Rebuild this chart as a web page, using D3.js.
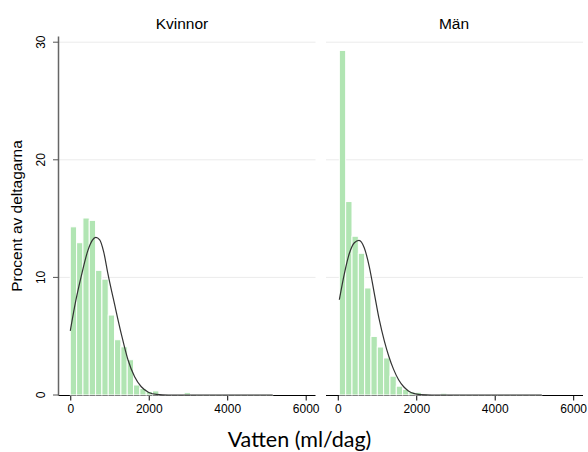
<!DOCTYPE html>
<html><head><meta charset="utf-8">
<script src="https://cdn.jsdelivr.net/npm/d3@7"></script>
<style>body{margin:0;background:#fff} svg{display:block}</style>
</head><body>
<svg id="c" width="588" height="452"></svg>
<script>
// ---- data ----
const panelTitles = ["Kvinnor", "Män"];
const binStart = [0, 40];
const binWidth = 161.25;
const kvinnorPct = [14.3, 12.95, 15.05, 14.85, 10.6, 9.85, 6.8, 4.7, 4.1, 3.0,
  0.85, 0.55, 0.3, 0.35, 0.05, 0.03, 0.03, 0.03, 0.2, 0.03,
  0.02, 0.02, 0.02, 0.02, 0.02, 0.02, 0.02, 0.02, 0.02, 0.02, 0.02, 0.02];
const manPct = [29.3, 16.45, 13.5, 12.05, 9.1, 4.98, 4.08, 3.15, 1.6, 0.75,
  0.48, 0.26, 0.23, 0.12, 0.05, 0.05, 0.15, 0.03, 0.02, 0.02,
  0.02, 0.02, 0.02, 0.02, 0.02, 0.02, 0.02, 0.02, 0.02, 0.02, 0.02, 0.02];
const kvinnorCurveX = [0, 110, 280, 450, 560, 650, 750, 850, 960, 1130, 1300, 1470, 1640, 1810, 2000, 2200, 2500, 5160];
const kvinnorCurveY = [5.45, 7.5, 10.1, 12.3, 13.15, 13.4, 13.2, 12.2, 10.3, 7.7, 5.2, 3.0, 1.55, 0.7, 0.22, 0.05, 0, 0];
const manCurveX = [40, 170, 296, 423, 540, 677, 804, 931, 1058, 1186, 1300, 1420, 1550, 1680, 1800, 1950, 2100, 2400, 5200];
const manCurveY = [8.1, 10.35, 12.05, 12.95, 13.15, 12.5, 10.9, 8.65, 6.4, 4.6, 3.3, 2.2, 1.3, 0.7, 0.35, 0.12, 0.04, 0, 0];
const xTicks = [0, 2000, 4000, 6000];
const yTicks = [0, 10, 20, 30];
const yTitle = "Procent av deltagarna";
const xTitle = "Vatten (ml/dag)";

// ---- layout ----
const svg = d3.select("#c");
const panelLeft = [58.5, 326];
const panelW = 257;
const y = d3.scaleLinear().domain([0, 30]).range([395, 42.2]);
const barColor = "#b1e5b3";
const gridColor = "#ebebeb";

const pctSeries = [kvinnorPct, manPct];
const curves = [[kvinnorCurveX, kvinnorCurveY], [manCurveX, manCurveY]];

panelTitles.forEach((title, p) => {
  const g = svg.append("g");
  const x = d3.scaleLinear().domain([-300, 6250]).range([panelLeft[p], panelLeft[p] + panelW]);

  // gridlines
  g.selectAll("line.grid").data(yTicks.filter(t => t > 0)).join("line")
    .attr("x1", panelLeft[p]).attr("x2", panelLeft[p] + panelW)
    .attr("y1", d => y(d)).attr("y2", d => y(d))
    .attr("stroke", gridColor).attr("stroke-width", 1);

  // x axis
  const xAxis = d3.axisBottom(x).tickValues(xTicks).tickSize(5).tickPadding(4).tickFormat(d3.format("d"));
  const ax = g.append("g").attr("transform", "translate(0,395.5)").call(xAxis);
  ax.select(".domain").attr("d", `M${panelLeft[p]},0H${panelLeft[p] + panelW}`).attr("stroke", "#000");
  ax.selectAll(".tick line").attr("stroke", "#000");
  ax.selectAll(".tick text").attr("font-family", "Liberation Sans, Arial, sans-serif")
    .attr("font-size", 12).attr("fill", "#000");

  // bars
  const data = pctSeries[p].map((v, i) => ({x0: binStart[p] + i * binWidth, v}));
  g.selectAll("rect.bar").data(data).join("rect")
    .attr("x", d => x(d.x0)).attr("width", d => x(d.x0 + binWidth) - x(d.x0))
    .attr("y", d => y(d.v)).attr("height", d => Math.max(0.3, y(0) - y(d.v)))
    .attr("fill", barColor).attr("stroke", "#fff").attr("stroke-width", 1);

  // normal curve
  const [cx, cy] = curves[p];
  const line = d3.line().x(d => x(d[0])).y(d => y(d[1])).curve(d3.curveMonotoneX);
  g.append("path").attr("d", line(cx.map((v, i) => [v, cy[i]])))
    .attr("fill", "none").attr("stroke", "#333").attr("stroke-width", 1.2);

  // panel title
  g.append("text").attr("x", p === 0 ? 182 : 454).attr("y", 29)
    .attr("text-anchor", "middle").attr("font-family", "Liberation Sans, Arial, sans-serif")
    .attr("font-size", 15.5).attr("fill", "#000").text(title);
});

// y axis (left panel only)
const ay = svg.append("g");
ay.append("line").attr("x1", 58.5).attr("x2", 58.5).attr("y1", 36.5).attr("y2", 395.5)
  .attr("stroke", "#666").attr("stroke-width", 1.5);
ay.selectAll("line.t").data(yTicks).join("line")
  .attr("x1", 53).attr("x2", 58.5).attr("y1", d => y(d)).attr("y2", d => y(d))
  .attr("stroke", "#555").attr("stroke-width", 1);
ay.selectAll("text").data(yTicks).join("text")
  .attr("transform", d => `translate(45,${y(d)}) rotate(-90)`)
  .attr("text-anchor", "middle").attr("font-family", "Liberation Sans, Arial, sans-serif")
  .attr("font-size", 12).attr("fill", "#000").text(d => d);

// axis titles
svg.append("text").attr("transform", "translate(22,216) rotate(-90)")
  .attr("text-anchor", "middle").attr("font-family", "Liberation Sans, Arial, sans-serif")
  .attr("font-size", 15.5).attr("fill", "#000").text(yTitle);
svg.append("text").attr("x", 299.5).attr("y", 446.5)
  .attr("text-anchor", "middle").attr("font-family", "Lato, sans-serif")
  .attr("font-size", 21.5).attr("fill", "#000").text(xTitle);
</script>
</body></html>
